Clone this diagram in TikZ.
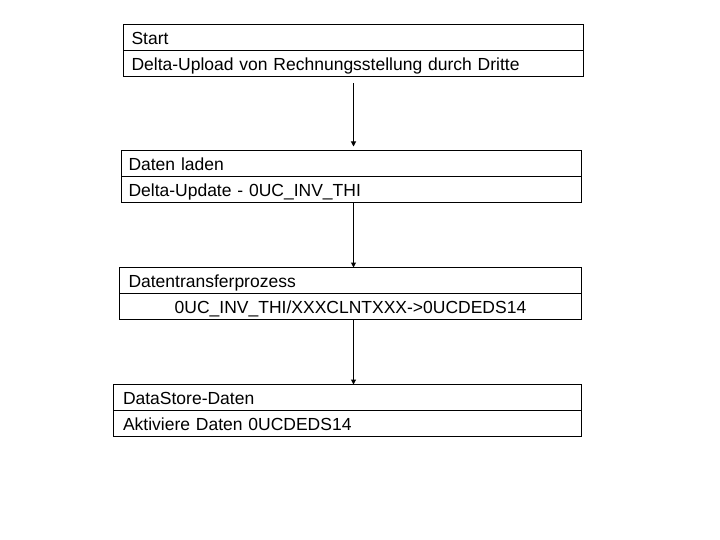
\documentclass[tikz,border=0pt]{standalone}
\usepackage{fontspec}
\setmainfont{Liberation Sans}
\usetikzlibrary{arrows.meta}

\begin{document}
\begin{tikzpicture}[x=1pt, y=-1pt, line width=1pt,
	row/.style={draw, anchor=north west, minimum height=26pt, inner ysep=0pt, outer sep=0pt,
		text height=14pt, text depth=0pt, align=left,
		font=\fontsize{17.5}{20}\selectfont},
	flow/.style={-{Triangle[length=5pt, width=5pt]}}]

	\useasboundingbox (0,0) rectangle (720,540);
	\coordinate (axis) at (353.5,0);

	% Start
	\node (startT) at (123.5, 24.5) [row, inner xsep=8pt, text width=444pt] {Start};
	\node (startB) at (startT.south west) [row, inner xsep=8pt, text width=444pt]
		{Delta-Upload von Rechnungsstellung durch Dritte};

	% Daten laden
	\node (ladenT) at (121.5, 150.5) [row, inner xsep=7pt, text width=446pt] {Daten laden};
	\node (ladenB) at (ladenT.south west) [row, inner xsep=7pt, text width=446pt]
		{Delta-Update - 0UC\_INV\_THI};

	% Datentransferprozess
	\node (dtpT) at (119.5, 267.5) [row, inner xsep=9pt, text width=444pt] {Datentransferprozess};
	\node (dtpB) at (dtpT.south west) [row, inner xsep=9pt, text width=444pt, align=center]
		{0UC\_INV\_THI/XXXCLNTXXX->0UCDEDS14};

	% DataStore
	\node (dsoT) at (113.5, 384.5) [row, inner xsep=9.5pt, text width=449pt] {DataStore-Daten};
	\node (dsoB) at (dsoT.south west) [row, inner xsep=9.5pt, text width=449pt]
		{Aktiviere Daten 0UCDEDS14};

	\draw[flow, shorten <=7pt, shorten >=4pt] (startB.south -| axis) -- (ladenT.north -| axis);
	\draw[flow] (ladenB.south -| axis) -- (dtpT.north -| axis);
	\draw[flow] (dtpB.south -| axis) -- (dsoT.north -| axis);
\end{tikzpicture}
\end{document}
